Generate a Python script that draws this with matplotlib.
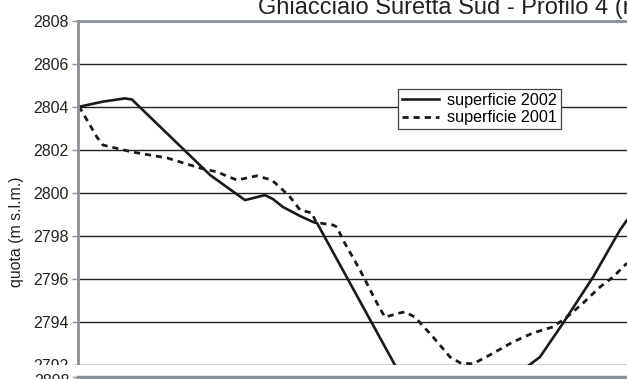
import numpy as np
import matplotlib.pyplot as plt
from matplotlib.lines import Line2D
from matplotlib.patches import Rectangle

plt.rcParams['font.family'] = ['Liberation Sans', 'DejaVu Sans']

# profile distance (m) and surface elevation (m s.l.m.)
dist_2002 = [0.0, 10.0, 18.8, 21.6, 52.9, 66.9, 74.9, 78.1, 82.1, 89.0, 94.2, 95.8,
             127.0, 137.0, 171.1, 180.3, 185.1, 194.4, 206.4, 217.2, 220.0]
quota_2002 = [2804.0, 2804.25, 2804.4, 2804.35, 2800.84, 2799.67, 2799.9, 2799.72, 2799.35,
              2798.93, 2798.65, 2798.6, 2792.0, 2790.6, 2791.4, 2791.95, 2792.37, 2793.95,
              2796.09, 2798.28, 2798.74]

dist_2001 = [0.0, 0.8, 7.6, 10.0, 22.0, 35.7, 48.9, 55.7, 63.7, 71.7, 77.7, 82.1, 85.0,
             89.0, 93.8, 95.4, 102.2, 103.8, 106.2, 113.0, 119.8, 123.0, 129.0, 131.0,
             135.0, 142.3, 149.1, 153.1, 158.3, 165.1, 174.3, 182.3, 190.3, 195.9, 202.4,
             209.2, 214.4, 220.0]
quota_2001 = [2804.0, 2803.95, 2802.6, 2802.23, 2801.9, 2801.63, 2801.16, 2800.98, 2800.6,
              2800.8, 2800.6, 2800.14, 2799.81, 2799.21, 2799.07, 2798.63, 2798.51, 2798.42,
              2797.81, 2796.42, 2794.88, 2794.23, 2794.42, 2794.47, 2794.23, 2793.3, 2792.37,
              2792.1, 2792.05, 2792.47, 2793.07, 2793.49, 2793.77, 2794.23, 2794.88, 2795.63,
              2796.09, 2796.74]

y_ticks = np.arange(2792, 2809, 2)

W, H = 627, 379
fig = plt.figure(figsize=(W / 100, H / 100), dpi=100)
ax = fig.add_axes([78 / W, 14 / H, 1 - 78 / W, (365 - 21) / H])

line_col = '#1a1a1a'
ax.plot(dist_2002, quota_2002, color=line_col, lw=1.9, label='superficie 2002')
ax.plot(dist_2001, quota_2001, color=line_col, lw=2.0, linestyle=(0, (2.2, 1.8)),
        label='superficie 2001')

ax.set_xlim(0, 220)
ax.set_ylim(2792, 2808)
ax.set_yticks(y_ticks)
ax.set_yticklabels([str(v) for v in y_ticks], fontsize=11.4, color='#222222')
ax.set_xticks([])
ax.yaxis.grid(True, color='#222222', lw=1.0)
ax.set_axisbelow(True)
ax.tick_params(axis='y', length=4, width=1, color='#8a9099', pad=3)
for s in ['right', 'bottom']:
    ax.spines[s].set_visible(False)
ax.spines['left'].set_color('#8a9099')
ax.spines['left'].set_linewidth(2)
ax.spines['top'].set_color('#8a9099')
ax.spines['top'].set_linewidth(2)

# axis title sits on the centre of the full (taller) panel
fig.text(17 / W, 1 - 232 / H, 'quota (m s.l.m.)', fontsize=11.4, color='#222222',
         rotation=90, ha='center', va='center')

leg = ax.legend(loc='upper left', bbox_to_anchor=(398 / W, 1 - 89 / H),
                bbox_transform=fig.transFigure, fontsize=11.6, frameon=True,
                fancybox=False, edgecolor='#444444', framealpha=1,
                handlelength=2.3, handletextpad=0.5, labelspacing=0.15,
                borderpad=0.25, borderaxespad=0)
leg.get_frame().set_linewidth(0.9)

fig.text(258 / W, 1 - 14 / H, 'Ghiacciaio Suretta Sud - Profilo 4 (rilievo 2002)',
         fontsize=17, color='#222222', ha='left', va='baseline')

# strip between this panel and the next one on the page
fig.add_artist(Rectangle((0, 4 / H), 1, 10.5 / H, transform=fig.transFigure,
                         facecolor='white', edgecolor='none', zorder=10))
fig.add_artist(Line2D([78 / W, 1], [2 / H, 2 / H], transform=fig.transFigure,
                      color='#8a9099', lw=2.5, zorder=11))
fig.add_artist(Line2D([73 / W, 78 / W], [2 / H, 2 / H], transform=fig.transFigure,
                      color='#8a9099', lw=1, zorder=11))
fig.text(70 / W, 1 - 373.5 / H, '2808', fontsize=11.4, color='#222222',
         ha='right', va='top', zorder=11)

fig.savefig('out.png', dpi=100)
